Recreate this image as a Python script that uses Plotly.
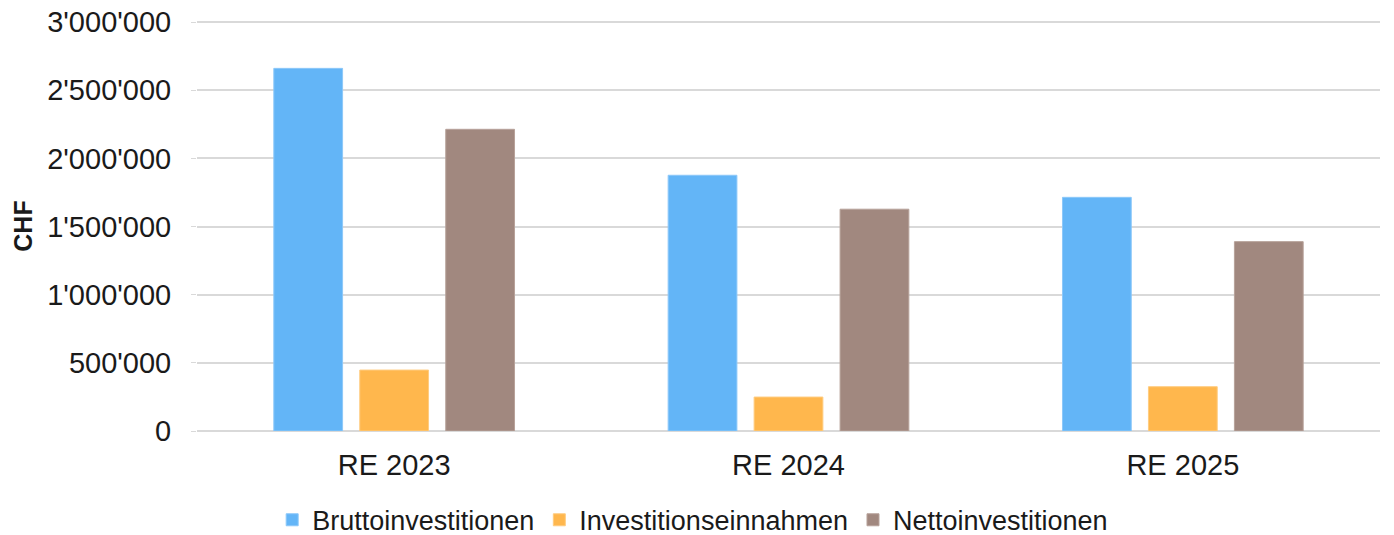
import plotly.graph_objects as go

categories = ["RE 2023", "RE 2024", "RE 2025"]
brutto = [2660000, 1876000, 1714000]
einnahmen = [447000, 249000, 325000]
netto = [2213000, 1627000, 1389000]
series_names = ["Bruttoinvestitionen", "Investitionseinnahmen", "Nettoinvestitionen"]
colors = ["#63B5F7", "#FFB74D", "#A1887F"]
line_colors = ["#8CC8F9", "#FFCC80", "#B7A29A"]
tick_vals = [0, 500000, 1000000, 1500000, 2000000, 2500000, 3000000]
tick_text = ["0", "500'000", "1'000'000", "1'500'000", "2'000'000", "2'500'000", "3'000'000"]

fig = go.Figure()
for name, vals, c, lc in zip(series_names, [brutto, einnahmen, netto], colors, line_colors):
    fig.add_trace(go.Bar(x=categories, y=vals, name=name,
                         marker=dict(color=c, line=dict(color=lc, width=1))))

font_main = "Liberation Sans, Arial, sans-serif"
fig.update_layout(
    width=1394, height=535,
    margin=dict(l=197, r=14, t=21, b=104, autoexpand=False),
    paper_bgcolor="white", plot_bgcolor="white",
    barmode="group", bargap=0.346, bargroupgap=0.2,
    font=dict(family=font_main, size=29, color="#1a1a1a"),
    showlegend=True,
    legend=dict(orientation="h", x=0.419, xanchor="center", y=-0.2176, yanchor="middle",
                font=dict(family=font_main, size=27, color="#1a1a1a"),
                itemwidth=30, traceorder="normal"),
    xaxis=dict(showgrid=False, showline=False, ticks="", automargin=False,
               ticklabelstandoff=14,
               tickfont=dict(size=29, family=font_main)),
    yaxis=dict(range=[0, 3007500], tickvals=tick_vals, ticktext=tick_text,
               automargin=False, ticklabeloverflow="allow",
               showgrid=True, gridcolor="#d9d9d9", gridwidth=1.5,
               zeroline=True, zerolinecolor="#d9d9d9", zerolinewidth=1.5,
               ticks="outside", ticklen=5, tickcolor="#d9d9d9",
               ticklabelstandoff=14,
               title=dict(text="<b>CHF</b>", standoff=7, font=dict(size=25)),
               tickfont=dict(size=29)),
)
fig.write_html("out.html", config={"displayModeBar": False},
               post_script="document.body.style.margin='0px';")
